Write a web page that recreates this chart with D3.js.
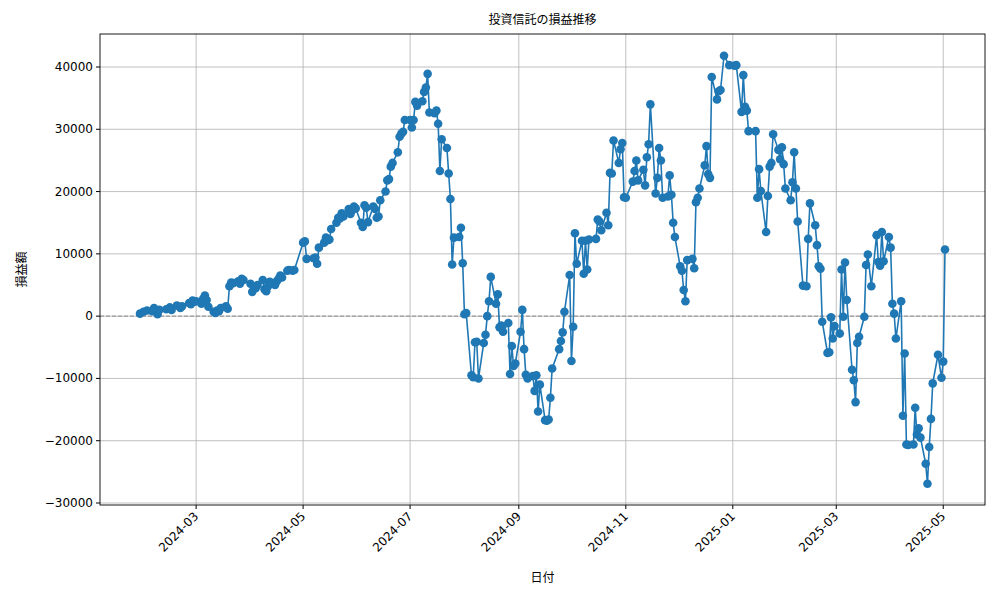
<!DOCTYPE html>
<html><head><meta charset="utf-8">
<script src="https://cdn.jsdelivr.net/npm/d3@7"></script>
<style>body{margin:0;background:#fff}text{font-family:"DejaVu Sans","Noto Sans CJK JP",sans-serif}</style>
</head><body><svg id="c" width="1000" height="600"></svg>
<script>
const dates=["2024-01-29","2024-01-31","2024-02-02","2024-02-05","2024-02-06","2024-02-08","2024-02-09","2024-02-13","2024-02-15","2024-02-16","2024-02-19","2024-02-21","2024-02-22","2024-02-26","2024-02-27","2024-02-28","2024-02-29",
"2024-03-01","2024-03-04","2024-03-05","2024-03-06","2024-03-07","2024-03-08","2024-03-11","2024-03-12","2024-03-13","2024-03-14","2024-03-15","2024-03-18","2024-03-19",
"2024-03-20","2024-03-21","2024-03-22","2024-03-25","2024-03-26","2024-03-27","2024-03-28","2024-04-01","2024-04-02","2024-04-03","2024-04-04","2024-04-05","2024-04-08","2024-04-09","2024-04-10","2024-04-11","2024-04-12","2024-04-15","2024-04-16","2024-04-17","2024-04-18","2024-04-19","2024-04-22","2024-04-23","2024-04-25","2024-04-26",
"2024-05-01","2024-05-02","2024-05-03","2024-05-07","2024-05-08","2024-05-09","2024-05-10","2024-05-13","2024-05-14","2024-05-15","2024-05-16","2024-05-17","2024-05-20","2024-05-21","2024-05-22","2024-05-23","2024-05-24","2024-05-27","2024-05-28","2024-05-29","2024-05-30","2024-05-31","2024-06-03","2024-06-04","2024-06-05","2024-06-06","2024-06-07","2024-06-10","2024-06-11","2024-06-12","2024-06-13","2024-06-14","2024-06-17","2024-06-18","2024-06-19","2024-06-20","2024-06-21","2024-06-24","2024-06-25","2024-06-26","2024-06-27","2024-06-28","2024-07-01","2024-07-02","2024-07-03","2024-07-04","2024-07-05","2024-07-08","2024-07-09","2024-07-10","2024-07-11","2024-07-12","2024-07-15","2024-07-16","2024-07-17","2024-07-18","2024-07-19","2024-07-22","2024-07-23","2024-07-24","2024-07-25","2024-07-26","2024-07-29","2024-07-30","2024-07-31","2024-08-01","2024-08-02","2024-08-05","2024-08-06","2024-08-07","2024-08-08","2024-08-09","2024-08-12","2024-08-13","2024-08-14","2024-08-15","2024-08-16","2024-08-19","2024-08-20","2024-08-21","2024-08-22","2024-08-23","2024-08-26","2024-08-27","2024-08-28","2024-08-29","2024-08-30",
"2024-09-02","2024-09-03","2024-09-04","2024-09-05","2024-09-06","2024-09-09","2024-09-10","2024-09-11","2024-09-12","2024-09-13","2024-09-16","2024-09-17","2024-09-18","2024-09-19","2024-09-20","2024-09-24","2024-09-25","2024-09-26","2024-09-27","2024-09-30","2024-10-01","2024-10-02","2024-10-03","2024-10-04","2024-10-07","2024-10-08","2024-10-09","2024-10-10","2024-10-11","2024-10-15","2024-10-16","2024-10-17","2024-10-18","2024-10-21","2024-10-22","2024-10-23","2024-10-24","2024-10-25","2024-10-28","2024-10-29","2024-10-30","2024-10-31","2024-11-01","2024-11-05","2024-11-06","2024-11-07","2024-11-08","2024-11-11","2024-11-12","2024-11-13","2024-11-14","2024-11-15","2024-11-18","2024-11-19","2024-11-20","2024-11-21","2024-11-22","2024-11-25","2024-11-26","2024-11-27","2024-11-28","2024-11-29","2024-12-02","2024-12-03","2024-12-04","2024-12-05","2024-12-06","2024-12-09","2024-12-10","2024-12-11","2024-12-12","2024-12-13","2024-12-16","2024-12-17","2024-12-18","2024-12-19","2024-12-20","2024-12-23","2024-12-24","2024-12-25","2024-12-27","2024-12-30",
"2025-01-02","2025-01-03","2025-01-06","2025-01-07","2025-01-08","2025-01-09","2025-01-10","2025-01-14","2025-01-15","2025-01-16","2025-01-17","2025-01-20","2025-01-21","2025-01-22","2025-01-23","2025-01-24","2025-01-27","2025-01-28","2025-01-29","2025-01-30","2025-01-31","2025-02-03","2025-02-04","2025-02-05","2025-02-06","2025-02-07","2025-02-10","2025-02-12","2025-02-13","2025-02-14","2025-02-17","2025-02-18","2025-02-19","2025-02-20","2025-02-21","2025-02-24","2025-02-25","2025-02-26","2025-02-27","2025-02-28","2025-03-03","2025-03-04","2025-03-05","2025-03-06","2025-03-07","2025-03-10","2025-03-11","2025-03-12","2025-03-13","2025-03-14","2025-03-17","2025-03-18","2025-03-19","2025-03-21","2025-03-24","2025-03-25","2025-03-26","2025-03-27","2025-03-28","2025-03-31","2025-04-01","2025-04-02","2025-04-03","2025-04-04","2025-04-07","2025-04-08","2025-04-09","2025-04-10","2025-04-11","2025-04-14","2025-04-15","2025-04-16","2025-04-17","2025-04-18","2025-04-21","2025-04-22","2025-04-23","2025-04-24","2025-04-25","2025-04-28","2025-04-30","2025-05-01","2025-05-02"];
const values=[400,700,900,800,1300,300,1000,1100,1400,1000,1700,1300,1600,2100,1900,2500,2300,
2400,2000,2800,3300,2600,1500,700,500,900,800,1300,1600,1200,
4800,5400,5300,5600,5200,6000,5800,5200,3900,4700,4500,5000,5800,4300,4000,4800,5500,5000,5600,6000,6500,6200,7300,7400,7300,7400,
11800,12000,9200,9300,9400,8400,11000,11800,12600,12200,12300,14000,15000,15800,15700,16500,16000,17200,16400,17000,17600,17300,15000,14300,17800,17400,15100,17600,17200,15800,16000,18600,20000,21800,22000,24000,24600,26300,28800,29300,29600,31500,31500,30300,31500,34400,33800,34500,36000,36700,38900,32700,32600,33000,30900,23300,28400,27000,22900,18800,8300,12600,12700,14200,8500,300,500,-9500,-9800,-4200,-4100,-10000,-4300,-3000,0,2400,6300,2000,3500,-1800,-1500,-2500,-1100,-9300,-4800,-8000,-7600,
-2500,1000,-5300,-9400,-10000,-9600,-12000,-9500,-15300,-11000,-16700,-16800,-16600,-13100,-8400,-5300,-4000,-2600,700,6600,-7200,-1700,13300,8400,12100,6800,12100,7500,12300,12400,15500,15200,13800,16600,14600,23000,22900,28200,24600,26800,27800,19100,19000,21600,23300,25000,21800,23500,21000,25500,27600,34000,19700,22200,27000,25000,19000,19200,22600,19500,15000,12700,8000,7300,4200,2400,9000,9200,7700,18300,19000,20500,24200,27300,22800,22200,38400,34800,36100,36300,41800,40300,
40200,40300,32800,38700,33600,33000,29700,29700,19000,23600,20100,13500,19300,24000,24600,29200,26700,25200,27100,24400,20500,18600,21500,26300,20500,15200,4900,4800,12400,18100,14600,11400,8000,7600,-900,-5900,-5800,-200,-3600,-1600,-2800,7500,-100,8600,2600,-8600,-10300,-13800,-4300,-3300,-100,8200,9900,4800,13000,8700,8100,13500,8800,12700,11000,2000,400,-3600,2400,-16000,-6000,-20600,-20700,-20600,-14700,-19000,-18000,-19500,-23700,-26900,-21000,-16500,-10800,-6200,-9900,-7300,10700];
const xTicks=["2024-03","2024-05","2024-07","2024-09","2024-11","2025-01","2025-03","2025-05"];
const yTicks=[-30000,-20000,-10000,0,10000,20000,30000,40000];

const p=d3.timeParse("%Y-%m-%d"), pm=d3.timeParse("%Y-%m");
const data=dates.map((d,i)=>({d:p(d),v:values[i]}));
const svg=d3.select("#c");
const L=100,R=985,T=34,B=505;
const x=d3.scaleTime().domain(d3.extent(data,d=>d.d)).range([140,945]);
const y=d3.scaleLinear().domain([-30000,40000]).range([503,67]);
const g=svg.append("g");
xTicks.forEach(t=>{const xx=x(pm(t));
 g.append("line").attr("x1",xx).attr("x2",xx).attr("y1",T).attr("y2",B).attr("stroke","#b0b0b0").attr("stroke-width",0.8);
 g.append("line").attr("x1",xx).attr("x2",xx).attr("y1",B).attr("y2",B+4).attr("stroke","#000");
 g.append("text").attr("transform",`translate(${xx+3},${B+12}) rotate(-45)`).attr("text-anchor","end").attr("font-size",12).text(t);
});
yTicks.forEach(t=>{const yy=y(t);
 g.append("line").attr("x1",L).attr("x2",R).attr("y1",yy).attr("y2",yy).attr("stroke","#b0b0b0").attr("stroke-width",0.8);
 g.append("line").attr("x1",L-4).attr("x2",L).attr("y1",yy).attr("y2",yy).attr("stroke","#000");
 g.append("text").attr("x",L-7).attr("y",yy+4).attr("text-anchor","end").attr("font-size",12).text(t<0?"\u2212"+(-t):t);
});
g.append("line").attr("x1",L).attr("x2",R).attr("y1",y(0)).attr("y2",y(0)).attr("stroke","#808080").attr("stroke-dasharray","4,2").attr("stroke-width",0.9);
g.append("path").datum(data).attr("d",d3.line().x(d=>x(d.d)).y(d=>y(d.v))).attr("fill","none").attr("stroke","#1f77b4").attr("stroke-width",1.6);
g.selectAll("circle").data(data).join("circle").attr("cx",d=>x(d.d)).attr("cy",d=>y(d.v)).attr("r",4.3).attr("fill","#1f77b4");
g.append("rect").attr("x",L).attr("y",T).attr("width",R-L).attr("height",B-T).attr("fill","none").attr("stroke","#000").attr("stroke-width",0.9);
svg.append("text").attr("x",(L+R)/2).attr("y",24).attr("text-anchor","middle").attr("font-size",12).text("投資信託の損益推移");
svg.append("text").attr("x",(L+R)/2).attr("y",582).attr("text-anchor","middle").attr("font-size",12).text("日付");
svg.append("text").attr("transform",`translate(26,${(T+B)/2}) rotate(-90)`).attr("text-anchor","middle").attr("font-size",12).text("損益額");
</script></body></html>
